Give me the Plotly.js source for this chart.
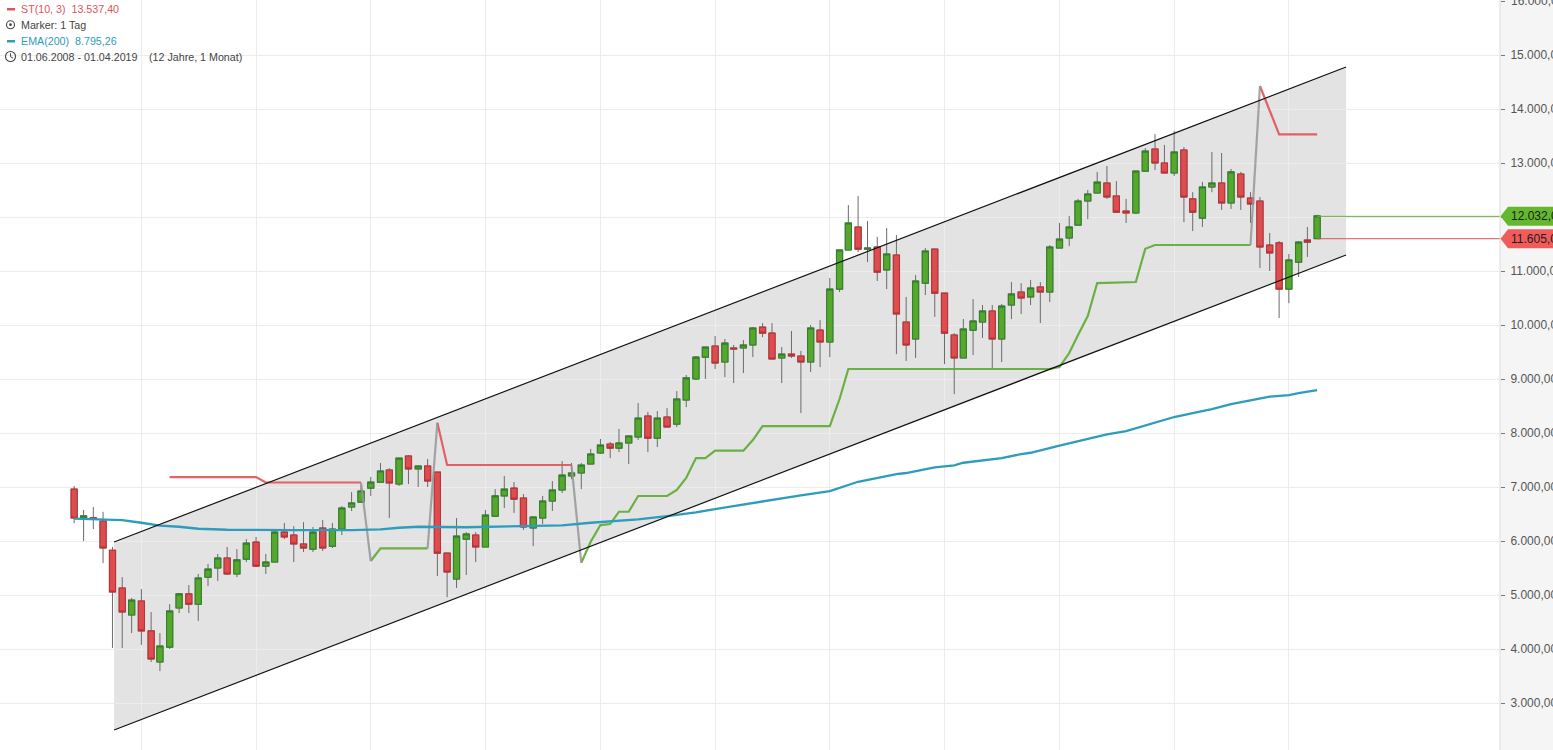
<!DOCTYPE html>
<html><head><meta charset="utf-8">
<script src="https://cdn.plot.ly/plotly-3.0.1.min.js"></script>
<style>html,body{margin:0;padding:0;overflow:hidden;background:#f5f5f5}</style>
</head><body><div id="chart" style="width:1553px;height:750px"></div>
<script>
const START_YEAR = 2008, START_MONTH = 6;
function month(i){ const m = START_MONTH - 1 + i; const y = START_YEAR + Math.floor(m/12); const mm = (m%12)+1; return y + '-' + String(mm).padStart(2,'0') + '-01'; }

const open = [6960,6425,6430,6370,5830,5130,4630,4890,4335,3760,4035,4760,5020,4830,5330,5500,5685,5390,5665,5980,5535,5610,6165,6110,5945,5850,6240,5905,6220,6630,6720,6980,7090,7315,7055,7575,7335,7390,7275,5775,5295,6035,6110,5890,6460,6835,6980,6795,6240,6425,6740,6945,7205,7260,7425,7630,7795,7720,7815,7925,8315,7905,8295,8165,8610,9000,9405,9610,9315,9575,9575,9630,9960,9850,9390,9460,9425,9315,9905,9685,10665,11390,11815,11405,11445,11020,11295,10055,9740,10775,11405,10590,9815,9390,9905,10055,10260,9740,10370,10610,10520,10705,10610,11425,11610,11850,12295,12445,12630,12390,12110,12075,12850,13260,13000,12815,13240,12335,11980,12555,12630,12260,12795,12350,12295,11480,11520,10665,11165,11575,11600];
const high = [7020,6575,6630,6540,5890,5330,4945,5110,4685,4295,4830,5035,5185,5390,5575,5760,5890,5850,6035,6075,5760,6205,6335,6275,6350,6260,6390,6335,6645,6905,7035,7185,7445,7350,7540,7590,7395,7520,7280,5780,6425,6165,6165,6575,6960,7205,7090,6870,6450,6835,7110,7480,7445,7445,7705,7890,7835,8075,7950,8555,8390,8405,8460,8775,9075,9425,9595,9795,9740,9630,9720,9960,10035,10035,9590,9890,9520,10000,10090,10870,11395,12220,12390,11925,11630,11795,11665,10520,10925,11425,11410,10595,9850,10110,10480,10370,10370,10390,10795,10775,10835,10795,11480,11890,12020,12335,12500,12835,12945,12665,12335,12855,13275,13535,13335,13590,13295,12460,12650,13205,13185,12890,12835,12460,12370,11705,11555,11315,11555,11815,12040];
const low = [6330,6000,6220,5590,4020,4020,4295,4075,3760,3590,4000,4665,4665,4520,5165,5260,5370,5330,5610,5520,5390,5610,6035,5610,5795,5795,5815,5870,6110,6555,6720,6835,7090,6425,7020,7055,7000,7000,5350,4960,5130,5370,5610,5885,6460,6610,6520,6205,5905,6315,6555,6890,7145,6960,7425,7610,7535,7645,7425,7870,7645,7740,8110,8110,8480,8980,9000,9185,9035,8925,9110,9405,9775,9365,8925,9390,8370,9130,9220,9405,10610,11385,11350,11165,10815,10665,9460,9335,9390,10555,10150,9275,8720,9385,9445,9760,9205,9315,10110,10205,10370,10035,10425,11425,11460,11850,11960,12440,12335,12090,11890,12055,12850,12870,12815,12760,11905,11740,11815,12460,12130,12150,12130,11890,11055,11000,10130,10405,10890,11260,11600];
const close = [6425,6465,6400,5870,5055,4685,4905,4335,3815,4055,4705,5020,4830,5315,5480,5685,5390,5650,5960,5535,5610,6165,6075,5945,5870,6165,5870,6220,6610,6705,6925,7090,7295,7075,7535,7335,7390,7110,5775,5425,6090,6130,5890,6480,6835,6960,6775,6260,6445,6740,6945,7220,7260,7405,7610,7775,7720,7815,7945,8275,7905,8275,8110,8630,9020,9405,9590,9295,9665,9555,9630,9945,9850,9370,9460,9425,9315,9945,9685,10665,11390,11890,11405,11425,10980,11315,10205,9630,10815,11370,10590,9850,9390,9925,10075,10260,9740,10350,10575,10500,10685,10610,11445,11590,11815,12295,12425,12645,12370,12090,12075,12850,13220,13000,12815,13205,12370,12090,12555,12630,12260,12835,12370,12240,11445,11335,10665,11205,11535,11535,12020];

const emaMonths = [0,3,5,7,9,11,13,16,19,23,29,32,34,36,41,49,51,54,59,62,65,67,69,71,74,76,79,82,86,87,90,92,93,95,97,99,100,103,107,108,110,112,113,115,117,119,121,123,125,127,128,130];
const emaValues = [6415,6405,6388,6338,6283,6264,6227,6208,6203,6203,6203,6216,6245,6264,6255,6277,6290,6338,6401,6462,6531,6592,6647,6716,6801,6846,6925,7097,7240,7259,7364,7401,7449,7490,7536,7610,7634,7764,7935,7975,8036,8138,8190,8296,8370,8444,8536,8611,8672,8703,8740,8795];

const stRed1Months = [10,19,20,30];
const stRed1Values = [7184,7184,7083,7083];
const stRed2Months = [38,39,52];
const stRed2Values = [8190,7407,7407];
const stRed3Months = [124,125,126,130];
const stRed3Values = [14426,13981,13530,13530];
const stGreen1Months = [31,32,37];
const stGreen1Values = [5629,5864,5864];
const stGreen2Months = [53,54,55,56,57,58,59,62,63,64,65,66,67,70,71,72,79,80,81,102,103,104,105,106,107,111,112,113,123];
const stGreen2Values = [5597,5986,6295,6314,6542,6542,6833,6833,6944,7166,7536,7536,7672,7672,7870,8129,8129,8629,9185,9185,9222,9481,9814,10166,10777,10796,11412,11481,11481];
const stFlips = [[30,7083,31,5629],[37,5864,38,8190],[52,7407,53,5597],[123,11481,124,14426]];

const channelDates = ['2008-10-06','2019-07-02'];
const channelUpper = [5981,14778];
const channelLower = [2500,11296];

const gridDates = ['2009-01-01','2010-01-01','2011-01-01','2012-01-01','2013-01-01','2014-01-01','2015-01-01','2016-01-01','2017-01-01','2018-01-01','2019-01-01'];
const yTickVals = [3000,4000,5000,6000,7000,8000,9000,10000,11000,12000,13000,14000,15000,16000];
const yTickText = ['3.000,00','4.000,00','5.000,00','6.000,00','7.000,00','8.000,00','9.000,00','10.000,00','11.000,00','12.000,00','13.000,00','14.000,00','15.000,00','16.000,00'];
const lastCloseLevel = 12012, lastOpenLevel = 11598;
const lastCloseLabel = '12.032,00', lastOpenLabel = '11.605,00';
const topTickLabel = '16.000,00', topTickValue = 16000;

const months = open.map((_,i)=>month(i));
const X_RANGE = ['2007-10-09','2020-11-03'];
const Y_RANGE = [2129.6,16018.5];
const W = 1500, H = 750;
const px = v => v/W, py = v => 1 - v/H;

const RED='#dd4d4f', REDL='#b83236', GREEN='#55a82d', GREENL='#33802a';
const line = (x,y,color,width,extra) => Object.assign({type:'scatter',mode:'lines',x,y,line:{color,width},hoverinfo:'skip'},extra||{});
const pick = a => a.map(month);

const traces = [
  {type:'candlestick',x:months,open,high,low,close,whiskerwidth:0,hoverinfo:'skip',
   increasing:{line:{color:'#6b6b6b',width:1},fillcolor:GREEN},
   decreasing:{line:{color:'#6b6b6b',width:1},fillcolor:RED}},
  {type:'candlestick',x:months,open,close,
   high:open.map((o,i)=>Math.max(o,close[i])),low:open.map((o,i)=>Math.min(o,close[i])),
   whiskerwidth:0,hoverinfo:'skip',
   increasing:{line:{color:GREENL,width:1.1},fillcolor:GREEN},
   decreasing:{line:{color:REDL,width:1.1},fillcolor:RED}},
  line(pick(stRed1Months),stRed1Values,'rgba(224,82,86,0.9)',2.2),
  line(pick(stRed2Months),stRed2Values,'rgba(224,82,86,0.9)',2.2),
  line(pick(stRed3Months),stRed3Values,'rgba(224,82,86,0.9)',2.2),
  line(pick(stGreen1Months),stGreen1Values,'rgba(92,170,50,0.9)',2.2),
  line(pick(stGreen2Months),stGreen2Values,'rgba(92,170,50,0.9)',2.2),
  ...stFlips.map(f=>line([month(f[0]),month(f[2])],[f[1],f[3]],'rgba(150,150,150,0.85)',2.2)),
  line(pick(emaMonths),emaValues,'#2d9cbd',2.3),
  line(channelDates,channelUpper,'#111111',1.2),
  line(channelDates,channelLower,'#111111',1.2),
  line([months[130],X_RANGE[1]],[lastCloseLevel,lastCloseLevel],'#64b03a',1),
  line([months[130],X_RANGE[1]],[lastOpenLevel,lastOpenLevel],'#d9555a',1)
];

const tag = (val,color) => {
  const h = 9.5/0.054;
  return {type:'path',xref:'paper',yref:'y',layer:'above',line:{width:0},fillcolor:color,
    path:`M ${px(1500.5)},${val} L ${px(1508)},${val+h} L ${px(1560)},${val+h} L ${px(1560)},${val-h} L ${px(1508)},${val-h} Z`};
};
const pRect = (x0,y0,x1,y1,color) => ({type:'rect',xref:'paper',yref:'paper',x0:px(x0),x1:px(x1),y0:py(y0),y1:py(y1),fillcolor:color,line:{width:0},layer:'above'});
const pCircle = (cx,cy,r,fill,stroke,w) => ({type:'circle',xref:'paper',yref:'paper',x0:px(cx-r),x1:px(cx+r),y0:py(cy-r),y1:py(cy+r),fillcolor:fill,line:{color:stroke,width:w},layer:'above'});

const shapes = [
  {type:'path',xref:'x',yref:'y',layer:'below',fillcolor:'rgba(60,60,60,0.14)',line:{width:0},
   path:`M ${channelDates[0]},${channelLower[0]} L ${channelDates[0]},${channelUpper[0]} L ${channelDates[1]},${channelUpper[1]} L ${channelDates[1]},${channelLower[1]} Z`},
  {type:'line',xref:'paper',yref:'paper',x0:px(1500),x1:px(1500),y0:0,y1:1,line:{color:'#dcdcdc',width:1},layer:'above'},
  tag(lastCloseLevel,'#64b82f'),
  tag(lastOpenLevel,'#f05c5c'),
  pRect(7,8,15,10.5,'#e0555a'),
  pCircle(10.5,24.7,4,'rgba(0,0,0,0)','#444',1.1),
  pCircle(10.5,24.7,1.4,'#444','#444',0),
  pRect(7,40,15,42.5,'#2d9cbd'),
  pCircle(10.5,56.5,5,'rgba(0,0,0,0)','#444',1.1),
  {type:'path',xref:'paper',yref:'paper',layer:'above',line:{color:'#444',width:1},
   path:`M ${px(10.5)},${py(53.3)} L ${px(10.5)},${py(56.7)} L ${px(13)},${py(58)}`}
];

const legendFont = c => ({family:'Liberation Sans, Arial, sans-serif',size:10.7,color:c});
const pText = (x,y,text,color) => ({xref:'paper',yref:'paper',x:px(x),y:py(y),text,showarrow:false,xanchor:'left',yanchor:'middle',font:legendFont(color),borderpad:0,borderwidth:0});
const valText = (val,text,color) => ({xref:'paper',yref:'y',x:px(1510.5),y:val,text,showarrow:false,xanchor:'left',yanchor:'middle',font:{family:'Liberation Sans, Arial, sans-serif',size:12,color},borderpad:0});

const annotations = [
  pText(21,9,'ST(10, 3)\u00a0\u00a013.537,40','#dd5358'),
  pText(21,25,'Marker: 1 Tag','#444444'),
  pText(21,41,'EMA(200)\u00a0\u00a08.795,26','#2d9cbd'),
  pText(21,57,'01.06.2008 - 01.04.2019','#444444'),
  pText(148.5,57,'(12 Jahre, 1 Monat)','#444444'),
  valText(lastCloseLevel,lastCloseLabel,'#1c1c1c'),
  valText(lastOpenLevel,lastOpenLabel,'#1c1c1c'),
  valText(topTickValue,topTickLabel,'#555555')
];

const layout = {
  width:1553,height:750,autosize:false,showlegend:false,
  margin:{l:0,r:53,t:0,b:0,pad:0},
  paper_bgcolor:'#f5f5f5',plot_bgcolor:'#ffffff',
  boxgap:0.3,boxgroupgap:0,
  font:{family:'Liberation Sans, Arial, sans-serif'},
  xaxis:{type:'date',range:X_RANGE,showgrid:true,gridcolor:'#ececec',gridwidth:1,tickmode:'array',tickvals:gridDates,
    showticklabels:false,ticks:'',zeroline:false,showline:false,rangeslider:{visible:false},fixedrange:true},
  yaxis:{type:'linear',range:Y_RANGE,side:'right',tickmode:'array',tickvals:yTickVals,ticktext:yTickText,
    showgrid:true,gridcolor:'#ececec',gridwidth:1,zeroline:false,showline:false,ticks:'outside',ticklen:4,tickwidth:1,tickcolor:'#777',
    ticklabelstandoff:3,tickfont:{family:'Liberation Sans, Arial, sans-serif',size:12,color:'#555'},automargin:false,fixedrange:true},
  shapes,annotations
};
Plotly.newPlot('chart',traces,layout,{displayModeBar:false,staticPlot:true});
</script></body></html>
